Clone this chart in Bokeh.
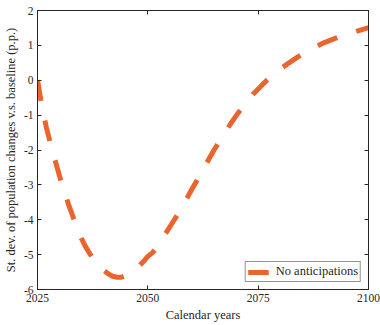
from bokeh.plotting import figure
from bokeh.models import LinearAxis, FixedTicker, Range1d, Legend, LegendItem
from bokeh.embed import file_html
from bokeh.resources import INLINE

years = [2025, 2026, 2027, 2028, 2029, 2030, 2031, 2032, 2033, 2034, 2035, 2036,
         2037, 2038, 2039, 2040, 2041, 2042, 2043, 2044, 2045, 2046, 2047, 2048,
         2049, 2050, 2051, 2052, 2053, 2054, 2055, 2056, 2057, 2058, 2059, 2060,
         2061, 2062, 2063, 2064, 2065, 2066, 2067, 2068, 2069, 2070, 2071, 2072,
         2073, 2074, 2075, 2076, 2077, 2078, 2080, 2082, 2084, 2086, 2088, 2090,
         2092, 2094, 2096, 2098, 2100]
values = [0.0, -0.75, -1.35, -1.85, -2.3, -2.75, -3.15, -3.55, -3.9, -4.25, -4.55, -4.8,
          -5.0, -5.2, -5.35, -5.45, -5.55, -5.62, -5.65, -5.65, -5.6, -5.52, -5.43, -5.33,
          -5.2, -5.05, -4.95, -4.8, -4.6, -4.4, -4.2, -4.0, -3.8, -3.58, -3.35, -3.12,
          -2.9, -2.68, -2.45, -2.22, -2.0, -1.8, -1.6, -1.4, -1.2, -1.02, -0.85, -0.68,
          -0.52, -0.38, -0.25, -0.12, 0.0, 0.1, 0.32, 0.5, 0.67, 0.82, 0.96, 1.08,
          1.18, 1.27, 1.35, 1.43, 1.51]
series_name = "No anticipations"
x_ticks = [2025, 2050, 2075, 2100]
y_ticks = [-6, -5, -4, -3, -2, -1, 0, 1, 2]
x_label = "Calendar years"
y_label = "St. dev. of population changes v.s. baseline (p.p.)"

FONT = "Liberation Serif"
AX = "#262626"
ORANGE = "#E9652D"
NAN = float("nan")

p = figure(width=380, height=325, output_backend="svg", toolbar_location=None,
           x_range=Range1d(2025, 2100), y_range=Range1d(-6, 2),
           min_border_left=37, min_border_right=12, min_border_top=10,
           min_border_bottom=36, background_fill_color="white",
           border_fill_color="white")
p.grid.visible = False
p.outline_line_color = AX
p.outline_line_width = 1

p.line(years, values, line_color=ORANGE, line_width=5, line_dash="21 20")
# solid swatch used only for the legend entry (no visible data)
swatch = p.line(years[:2], [NAN, NAN], line_color=ORANGE, line_width=5)

bottom = p.below[0]
left = p.left[0]
bottom.ticker = FixedTicker(ticks=x_ticks)
left.ticker = FixedTicker(ticks=y_ticks)
left.major_label_overrides = {t: str(t) for t in y_ticks}
bottom.major_label_overrides = {t: str(t) for t in x_ticks}
bottom.axis_label = x_label
left.axis_label = y_label

top = LinearAxis(ticker=FixedTicker(ticks=x_ticks),
                 major_label_overrides={t: "" for t in x_ticks})
right = LinearAxis(ticker=FixedTicker(ticks=y_ticks),
                   major_label_overrides={t: "" for t in y_ticks})
p.add_layout(top, "above")
p.add_layout(right, "right")

for ax in [bottom, left, top, right]:
    ax.axis_line_color = AX
    ax.major_tick_line_color = AX
    ax.major_tick_in = 4
    ax.major_tick_out = 0
    ax.minor_tick_line_color = None
    ax.major_label_text_font = FONT
    ax.major_label_text_font_size = "11.5px"
    ax.major_label_text_color = AX
    ax.axis_label_text_font = FONT
    ax.axis_label_text_font_size = "12.5px"
    ax.axis_label_text_font_style = "normal"
    ax.axis_label_text_color = AX

bottom.major_label_standoff = 4
bottom.axis_label_standoff = 3
left.major_label_standoff = 4
left.axis_label_standoff = 3
top.major_label_standoff = 0
right.major_label_standoff = 0
top.major_label_text_alpha = 0
right.major_label_text_alpha = 0

lg = Legend(items=[LegendItem(label=series_name, renderers=[swatch])],
            location="bottom_right", margin=7, padding=2, spacing=0,
            border_line_color=AX, border_line_width=1, background_fill_alpha=1,
            label_text_font=FONT, label_text_font_size="12.5px",
            label_text_color=AX, glyph_width=21, glyph_height=12,
            label_height=12, label_standoff=7)
p.add_layout(lg, "center")

open("out.html", "w").write(file_html(p, INLINE))
